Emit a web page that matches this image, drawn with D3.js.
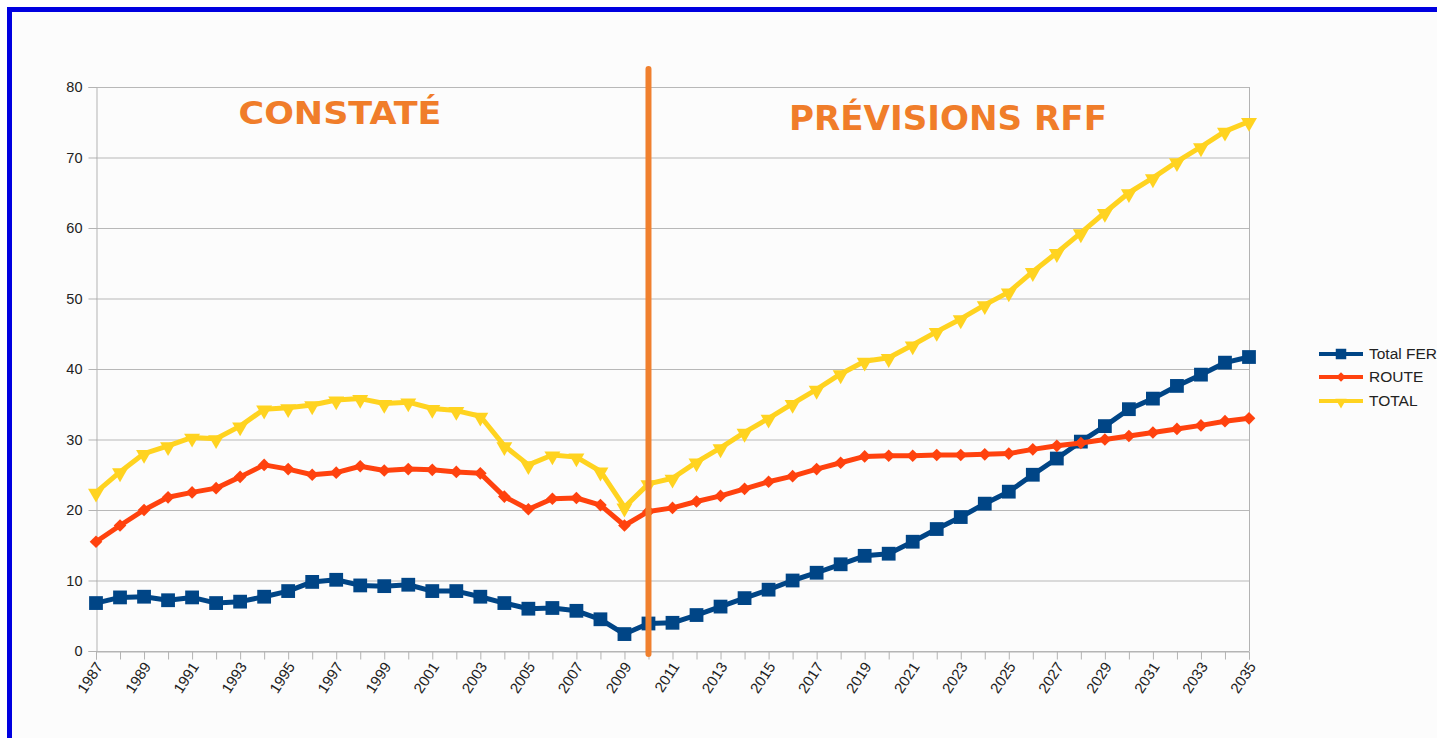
<!DOCTYPE html>
<html><head><meta charset="utf-8">
<script src="https://cdn.jsdelivr.net/npm/d3@7"></script>
<style>
html,body{margin:0;padding:0;background:#fff;overflow:hidden;}
svg{display:block;}
</style></head>
<body>
<svg id="chart" width="1437" height="738"></svg>
<script>
const years = d3.range(1987, 2036);
const yTicks = [0,10,20,30,40,50,60,70,80];
const xLabelYears = years.filter(y => (y - 1987) % 2 === 0);

const totalFer = [6.8,7.6,7.7,7.2,7.6,6.8,7.0,7.7,8.5,9.8,10.1,9.3,9.2,9.4,8.5,8.5,7.7,6.8,6.0,6.1,5.7,4.5,2.4,3.9,4.0,5.1,6.3,7.5,8.7,10.0,11.1,12.3,13.5,13.8,15.5,17.3,19.0,20.9,22.6,25.0,27.3,29.7,31.9,34.3,35.8,37.6,39.2,40.9,41.7];
const route = [15.5,17.8,20.0,21.8,22.5,23.1,24.7,26.4,25.8,25.0,25.3,26.2,25.6,25.8,25.7,25.4,25.2,21.9,20.1,21.6,21.7,20.7,17.8,19.8,20.3,21.2,22.0,23.0,24.0,24.8,25.8,26.7,27.6,27.7,27.7,27.8,27.8,27.9,28.0,28.6,29.1,29.5,30.0,30.5,31.0,31.5,32.0,32.6,33.0];
const total = [22.5,25.4,28.0,29.1,30.3,30.1,31.9,34.3,34.5,34.9,35.6,35.8,35.1,35.3,34.4,34.1,33.3,29.1,26.4,27.8,27.5,25.5,20.4,23.7,24.5,26.8,28.8,31.0,33.0,35.1,37.1,39.3,41.1,41.6,43.4,45.3,47.1,49.1,50.9,53.8,56.5,59.3,62.2,65.0,67.1,69.4,71.5,73.7,75.1];

const seriesNames = ["Total FER","ROUTE","TOTAL"];
const seriesColors = ["#004586","#ff420e","#ffd320"];
const annotations = ["CONSTATÉ","PRÉVISIONS RFF"];
const splitYear = 2010;

const svg = d3.select("#chart");
const W = 1437, H = 738;
const m = {left:96, right:1249, top:87, bottom:651};
const axisFont = "Liberation Sans, Arial, sans-serif";

svg.append("rect").attr("width",W).attr("height",H).attr("fill","#ffffff");
// blue frame
svg.append("rect").attr("x",9.5).attr("y",9.5).attr("width",W+20).attr("height",H+20)
  .attr("fill","#fcfcfc").attr("stroke","#0000e0").attr("stroke-width",5);

const x = d3.scaleLinear().domain([1987,2035]).range([m.left,m.right]);
const y = d3.scaleLinear().domain([0,80]).range([m.bottom,m.top]);

// gridlines
svg.append("g").selectAll("line").data(yTicks).join("line")
  .attr("x1",m.left).attr("x2",m.right)
  .attr("y1",d=>y(d)+0.5).attr("y2",d=>y(d)+0.5)
  .attr("stroke","#b8b8b8").attr("stroke-width",1);

// y axis
const yAxis = svg.append("g").attr("transform",`translate(${m.left+0.5},0)`)
  .call(d3.axisLeft(y).tickValues(yTicks).tickSize(8).tickPadding(6));
yAxis.attr("font-size",null).attr("font-family",null);
yAxis.select(".domain").attr("stroke","#b3b3b3");
yAxis.selectAll(".tick line").attr("stroke","#b3b3b3");
yAxis.selectAll("text").style("font-family",axisFont).style("font-size","14.5px").attr("fill","#222");

// right border
svg.append("line").attr("x1",m.right+0.5).attr("x2",m.right+0.5).attr("y1",m.top).attr("y2",m.bottom)
  .attr("stroke","#b3b3b3");

// x axis
const xAxis = svg.append("g").attr("transform",`translate(0,${m.bottom+0.5})`)
  .call(d3.axisBottom(x).tickValues(years).tickSize(8).tickFormat(d => xLabelYears.includes(d) ? String(d) : ""));
xAxis.attr("font-size",null).attr("font-family",null);
xAxis.select(".domain").attr("stroke","#b3b3b3");
xAxis.selectAll(".tick line").attr("stroke","#b3b3b3");
xAxis.selectAll("text")
  .style("font-family",axisFont).style("font-size","15px").attr("fill","#222")
  .attr("text-anchor","end").attr("dy",null).attr("y",0)
  .attr("transform","translate(7,15) rotate(-57)");

// lines and markers
const data = [totalFer, route, total];
const line = d3.line().x((d,i)=>x(years[i])).y(d=>y(d));
const square = d3.symbol().type(d3.symbolSquare).size(190);
const diamond = d3.symbol().type(d3.symbolSquare).size(80);
const tri = d3.symbol().type(d3.symbolTriangle).size(110);

function markerPath(si){ return si===0 ? square() : si===1 ? diamond() : tri(); }
function markerRot(si){ return si===0 ? 0 : si===1 ? 45 : 180; }

data.forEach((vals, si) => {
  const g = svg.append("g");
  g.append("path").datum(vals).attr("d",line)
    .attr("fill","none").attr("stroke",seriesColors[si]).attr("stroke-width",5).attr("stroke-linejoin","round");
  g.selectAll("path.mk").data(vals).join("path").attr("class","mk")
    .attr("d",markerPath(si))
    .attr("transform",(d,i)=>`translate(${x(years[i])},${y(d)+(si===2?1:0)}) rotate(${markerRot(si)})`)
    .attr("fill",seriesColors[si]);
});

// split line
svg.append("line").attr("x1",x(splitYear)).attr("x2",x(splitYear))
  .attr("y1",y(80)-18).attr("y2",m.bottom+3)
  .attr("stroke","#f0802e").attr("stroke-width",6).attr("stroke-linecap","round");

// annotations
svg.append("text").attr("x",340).attr("y",124).attr("text-anchor","middle")
  .attr("font-family","DejaVu Sans, Verdana, sans-serif").attr("font-weight","bold").attr("font-size",32)
  .attr("fill","#f07d2a").attr("textLength",203).attr("lengthAdjust","spacingAndGlyphs").text(annotations[0]);
svg.append("text").attr("x",948).attr("y",130).attr("text-anchor","middle")
  .attr("font-family","DejaVu Sans, Verdana, sans-serif").attr("font-weight","bold").attr("font-size",33)
  .attr("fill","#f07d2a").attr("textLength",318).attr("lengthAdjust","spacingAndGlyphs").text(annotations[1]);

// legend
const lg = svg.append("g");
const rowsY = [354,377,401];
seriesNames.forEach((name, si) => {
  const yy = rowsY[si];
  lg.append("line").attr("x1",1319).attr("x2",1363).attr("y1",yy).attr("y2",yy)
    .attr("stroke",seriesColors[si]).attr("stroke-width",4);
  const sym = si===0 ? d3.symbol().type(d3.symbolSquare).size(110)() : si===1 ? d3.symbol().type(d3.symbolSquare).size(45)() : d3.symbol().type(d3.symbolTriangle).size(55)();
  lg.append("path").attr("d",sym).attr("fill",seriesColors[si])
    .attr("transform",`translate(1341,${yy+(si===2?1:0)}) rotate(${markerRot(si)})`);
  lg.append("text").attr("x",1369).attr("y",yy+5).text(name)
    .style("font-family",axisFont).style("font-size","15.5px").attr("fill","#222");
});
</script>
</body></html>
